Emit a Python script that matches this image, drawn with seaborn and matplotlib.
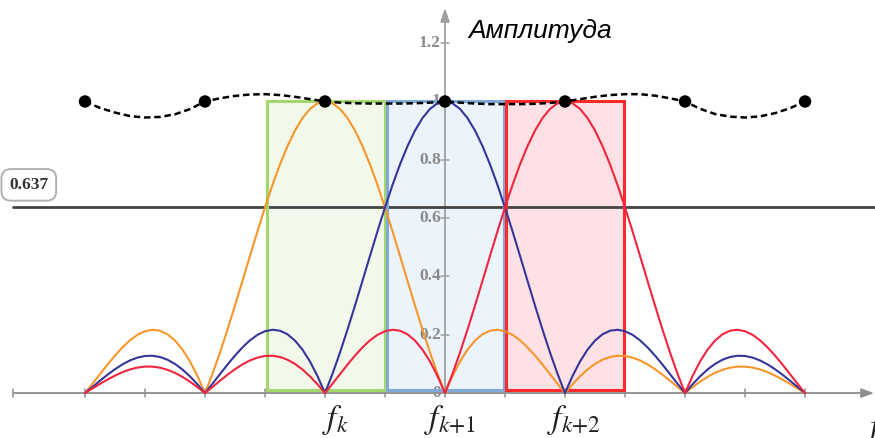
import numpy as np
import pandas as pd
import matplotlib
matplotlib.use("Agg")
import matplotlib.pyplot as plt
from matplotlib.patches import Rectangle, Polygon
import seaborn as sns

# |Amplitude| of one bin's response versus distance from its centre,
# sampled every 1/16 of a bin from 0 to 4 bins.
lobe_amplitude = [
    1.0000, 0.9936, 0.9745, 0.9432, 0.9003, 0.8469, 0.7842, 0.7136,
    0.6366, 0.5550, 0.4705, 0.3850, 0.3001, 0.2177, 0.1392, 0.0662,
    0.0000, 0.0584, 0.1083, 0.1489, 0.1801, 0.2017, 0.2139, 0.2172,
    0.2122, 0.1998, 0.1810, 0.1568, 0.1286, 0.0976, 0.0650, 0.0321,
    0.0000, 0.0301, 0.0573, 0.0808, 0.1000, 0.1144, 0.1238, 0.1281,
    0.1273, 0.1218, 0.1120, 0.0985, 0.0818, 0.0629, 0.0424, 0.0211,
    0.0000, 0.0203, 0.0390, 0.0555, 0.0693, 0.0799, 0.0871, 0.0908,
    0.0909, 0.0876, 0.0811, 0.0718, 0.0600, 0.0464, 0.0314, 0.0158,
    0.0000,
]
lobe_steps_per_bin = 16

# Three neighbouring bins
bin_centres = [-1, 0, 1]
bin_names = ["k", "k+1", "k+2"]
bin_labels = [r"$f_k$", r"$f_{k{+}1}$", r"$f_{k{+}2}$"]
bin_label_x = [-0.91, 0.04, 1.07]
bin_colours = ["#f7962b", "#35359a", "#f0253f"]

# Pass-band rectangles of the bins
box_left = [-1.48, -0.48, 0.51]
box_right = [-0.50, 0.49, 1.49]
box_bottom = [0.01, 0.01, 0.01]
box_top = [1.0, 1.0, 1.0]
box_edge = ["#a3d66c", "#80a8d8", "#ff2b2b"]
box_fill = ["#f2f8ea", "#ebf3fb", "#fde1e5"]

# Envelope of the combined response (every 1/8 bin from -3 to 3)
envelope_amp = [
    1.000, 0.978, 0.962, 0.950, 0.945, 0.947, 0.956, 0.974,
    1.000, 1.011, 1.019, 1.024, 1.025, 1.022, 1.016, 1.008,
    1.000, 0.996, 0.994, 0.993, 0.993, 0.993, 0.994, 0.996,
    1.000, 0.996, 0.993, 0.991, 0.991, 0.991, 0.992, 0.995,
    1.000, 1.008, 1.016, 1.022, 1.025, 1.025, 1.020, 1.011,
    1.000, 0.975, 0.957, 0.948, 0.945, 0.949, 0.960, 0.977,
    1.000,
]
envelope_freq = np.arange(-24, 25) / 8

# Samples on the bin grid
sample_freq = [-3, -2, -1, 0, 1, 2, 3]
sample_amp = [1.0, 1.0, 1.0, 1.0, 1.0, 1.0, 1.0]

level = 0.637
y_ticks = [0, 0.2, 0.4, 0.6, 0.8, 1.0, 1.2]
y_tick_labels = ["0", "0.2", "0.4", "0.6", "0.8", "1", "1.2"]
x_ticks = [-3.6] + list(np.arange(-6, 7) / 2)

# ---- long-form table of the three responses ----
grid = np.arange(-48, 49) / lobe_steps_per_bin
rows = []
for centre, name in zip(bin_centres, bin_names):
    for f in grid:
        idx = int(round(abs(f - centre) * lobe_steps_per_bin))
        rows.append({"freq": f, "amplitude": lobe_amplitude[idx], "bin": name})
curves = pd.DataFrame(rows)

sns.set_style("white")
plt.rcParams["mathtext.fontset"] = "stix"

fig = plt.figure(figsize=(8.75, 4.38), dpi=100)
ax = fig.add_axes([0, 0, 1, 1])
ax.set_xlim(-3.708, 3.583)
ax.set_ylim(-0.154, 1.348)
ax.axis("off")

axis_grey = "#8e8e8e"

# bin rectangles: fills first, edges later
for l, r, b, t, fc in zip(box_left, box_right, box_bottom, box_top, box_fill):
    ax.add_patch(Rectangle((l, b), r - l, t - b, facecolor=fc, edgecolor="none", zorder=1))

# axes with arrows
ax.plot([-3.6, 3.47], [0, 0], color=axis_grey, lw=1.3, zorder=2, solid_capstyle="butt")
ax.add_patch(Polygon([[3.56, 0], [3.465, 0.014], [3.465, -0.014]], closed=True,
                     color=axis_grey, zorder=2))
ax.plot([0, 0], [0, 1.275], color="#a0a0a0", lw=1.3, zorder=2, solid_capstyle="butt")
ax.add_patch(Polygon([[0, 1.314], [-0.034, 1.272], [0.034, 1.272]], closed=True,
                     color="#a0a0a0", zorder=2))
for xt in x_ticks:
    ax.plot([xt, xt], [-0.013, 0.013], color=axis_grey, lw=1.1, zorder=2)
for yt, lab in zip(y_ticks, y_tick_labels):
    if yt > 0:
        ax.plot([-0.033, 0.033], [yt, yt], color="#a0a0a0", lw=1.1, zorder=2)
    ax.text(-0.035, yt, lab, ha="right", va="center", fontsize=12.5,
            family="Liberation Serif", fontweight="bold", color="#8a8a8a", zorder=2)

# 2/pi level
ax.plot([-3.6, 3.583], [level, level], color="#444444", lw=2.0, zorder=3)
ax.text(-3.468, 0.714, f"{level:.3f}", ha="center", va="center", fontsize=12.5,
        family="Liberation Serif", fontweight="bold", color="#333333", zorder=7,
        bbox=dict(boxstyle="round,pad=0.45,rounding_size=0.55", facecolor="white",
                  edgecolor="#b0b0b0", linewidth=1.4))

# rectangle edges
for l, r, b, t, ec in zip(box_left, box_right, box_bottom, box_top, box_edge):
    ax.add_patch(Rectangle((l, b), r - l, t - b, facecolor="none", edgecolor=ec,
                           linewidth=2.2, zorder=4))

# bin responses
sns.lineplot(data=curves, x="freq", y="amplitude", hue="bin",
             palette=dict(zip(bin_names, bin_colours)), estimator=None, sort=False,
             legend=False, linewidth=1.5, ax=ax, zorder=5)

# envelope and samples
sns.lineplot(x=envelope_freq, y=envelope_amp, color="black", linewidth=1.8,
             linestyle=(0, (2.6, 1.5)), estimator=None, sort=False, ax=ax, zorder=6)
sns.scatterplot(x=sample_freq, y=sample_amp, color="black", s=80, edgecolor="none",
                ax=ax, zorder=7)

# labels
for xl, lab in zip(bin_label_x, bin_labels):
    ax.text(xl, -0.033, lab, ha="center", va="top", fontsize=24, color="#222222")
ax.text(3.50, -0.065, r"$f$", ha="left", va="top", fontsize=24, color="#222222",
        clip_on=False)
ax.text(0.19, 1.242, "Амплитуда", ha="left", va="center", fontsize=19,
        family="Liberation Sans", style="italic", color="black")

fig.savefig("out.png", dpi=100)
